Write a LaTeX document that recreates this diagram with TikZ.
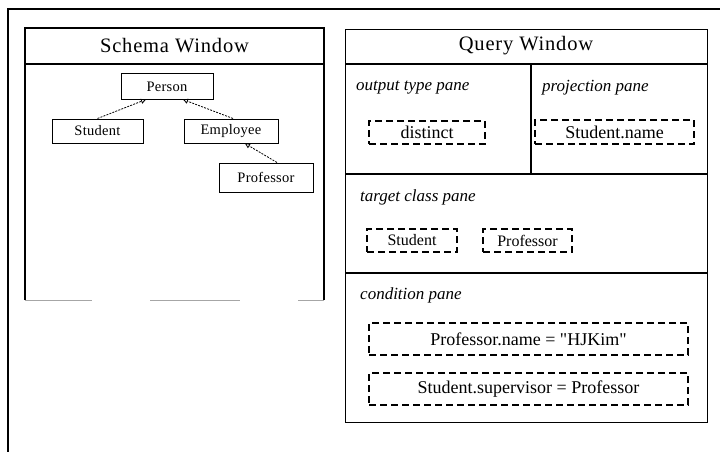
\documentclass[tikz,border=0pt]{standalone}
\usepackage{fontspec}
\setmainfont{Liberation Serif}
\usetikzlibrary{arrows.meta}

\tikzset{
  win/.style={line width=1.4pt},
  divider/.style={line width=1.2pt},
  wintitle/.style={font=\fontsize{20.5}{24}\selectfont\addfontfeature{LetterSpace=4}},
  cls/.style={draw, line width=1pt, inner sep=0pt,
              font=\fontsize{14.5}{16}\selectfont\addfontfeature{LetterSpace=2}},
  isa/.style={line width=0.8pt, dash pattern=on 2pt off 1.2pt,
              -{Triangle[open, length=5pt, width=5pt, line width=0.8pt]}},
  panelabel/.style={anchor=west, inner sep=0pt, font=\fontsize{17}{19}\selectfont\itshape},
  slot/.style={draw, line width=1.1pt, dash pattern=on 7pt off 4pt, inner sep=0pt,
               font=\fontsize{18}{20}\selectfont},
  smallslot/.style={slot, font=\fontsize{16}{18}\selectfont}
}

\begin{document}
\begin{tikzpicture}[x=1pt, y=-1pt]
  \useasboundingbox (0,0) rectangle (720,452);

  % outer frame, open to the right and bottom
  \draw[line width=2pt] (8,452) -- (8,9) -- (720,9);

  % ---------------- Schema Window ----------------
  \coordinate (sw-nw) at (25,28);
  \coordinate (sw-ne) at (324,28);
  \coordinate (sw-sw) at (25,300);
  \coordinate (sw-se) at (324,300);
  \draw[win] (sw-sw) -- (sw-nw) -- (sw-ne) -- (sw-se);
  \draw[gray!70, line width=1pt] (25,300) -- (92,300) (150,300) -- (240,300) (298,300) -- (324,300);
  \draw[divider] (25,64) -- (324,64);
  \node[wintitle] (schematitle) at (174.5,46) {Schema Window};

  \node[cls, minimum width=92pt, minimum height=25pt] (person)    at (167,86.5)  {Person};
  \node[cls, minimum width=91pt, minimum height=24pt] (student)   at (97.5,131)  {Student};
  \node[cls, minimum width=94pt, minimum height=24pt] (employee)  at (231,131)   {Employee};
  \node[cls, minimum width=94pt, minimum height=29pt] (professor) at (266,177.5) {Professor};

  \draw[isa] (student.north) -- ([xshift=-21pt]person.south);
  \draw[isa] ([xshift=2pt]employee.north) -- ([xshift=16pt]person.south);
  \draw[isa] ([xshift=11pt]professor.north) -- ([xshift=14pt]employee.south);

  % ---------------- Query Window ----------------
  \node[draw, win, minimum width=362pt, minimum height=393pt, inner sep=0pt,
        anchor=north west] (qw) at (345,29) {};
  \draw[divider] (345,64) -- (707,64);
  \draw[divider] (531,64) -- (531,174);
  \draw[divider] (345,174) -- (707,174);
  \draw[divider] (345,273) -- (707,273);
  \node[wintitle] (querytitle) at (526,46) {Query Window};

  % output type / projection panes
  \node[panelabel] (outlabel)  at (356,88) {output type pane};
  \node[panelabel] (projlabel) at (542,88) {projection pane};
  \node[slot, minimum width=116pt, minimum height=23pt] (distinct) at (427,132.5) {distinct};
  \node[slot, minimum width=159pt, minimum height=24pt] (sname)    at (614.5,132) {Student.name};

  % target class pane
  \node[panelabel] (targetlabel) at (360,197) {target class pane};
  \node[smallslot, minimum width=90pt, minimum height=23pt] (tstudent) at (412,240.5)   {Student};
  \node[smallslot, minimum width=89pt, minimum height=23pt] (tprof)    at (527.5,240.5) {Professor};

  % condition pane
  \node[panelabel] (condlabel) at (360,295) {condition pane};
  \node[slot, minimum width=319pt, minimum height=32pt] (cond1) at (528.5,339)
       {Professor.name = \textquotedbl HJKim\textquotedbl};
  \node[slot, minimum width=319pt, minimum height=32pt] (cond2) at (528.5,389)
       {Student.supervisor = Professor};
\end{tikzpicture}
\end{document}
